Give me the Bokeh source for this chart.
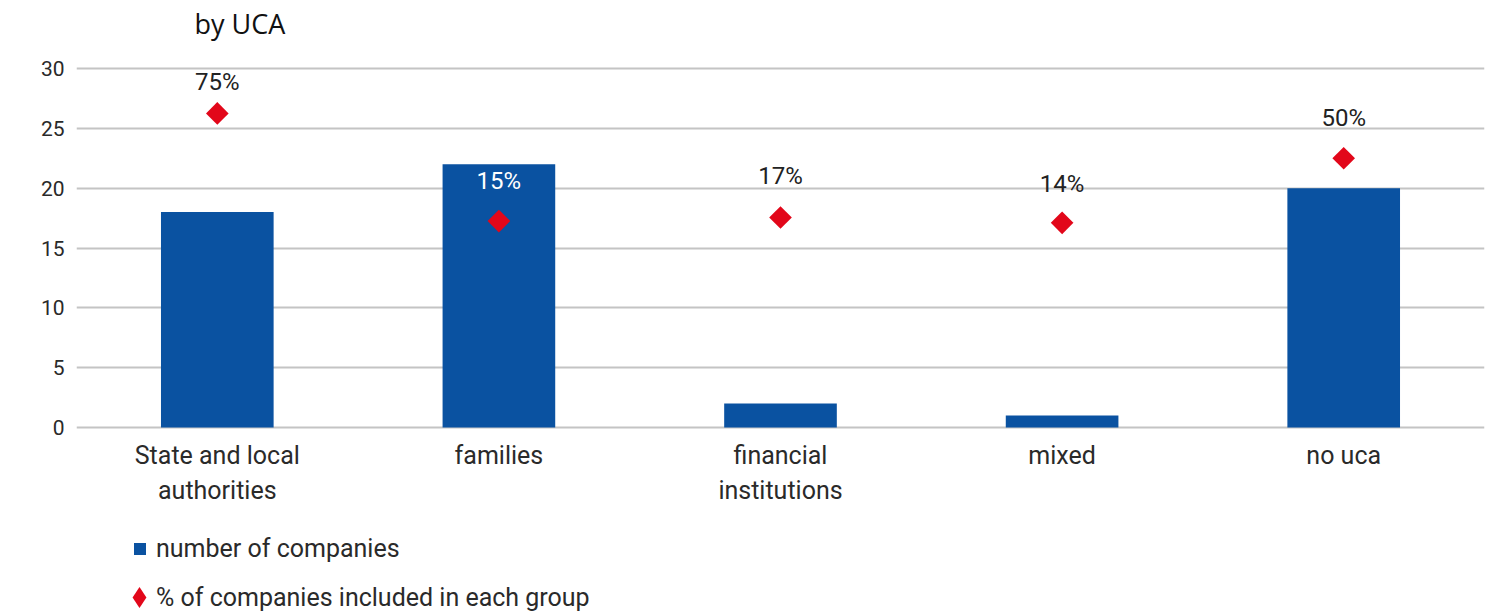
from bokeh.plotting import figure
from bokeh.models import (ColumnDataSource, Range1d, LabelSet, Label, Legend, LegendItem,
                          FixedTicker)
from bokeh.core.properties import value
from bokeh.embed import file_html
from bokeh.resources import INLINE
import math

title_text = "by UCA"
categories = ["State and local authorities", "families", "financial institutions", "mixed", "no uca"]
category_labels = ["State and local\nauthorities", "families", "financial\ninstitutions", "mixed", "no uca"]
companies = [18, 22, 2, 1, 20]
pct_included = [75, 15, 17, 14, 50]
pct_labels = ["75%", "15%", "17%", "14%", "50%"]
y_ticks = [0, 5, 10, 15, 20, 25, 30]

label_colors = ["#222222", "#ffffff", "#222222", "#222222", "#222222"]
label_offsets = [31, 40, 41, 39, 40]

BLUE = "#0A52A1"
RED = "#E2071A"
GRID = "#c4c4c4"
FONT = "Roboto"
TXT = "#2a2a2a"

# layout (screen px)
W, H = 1490, 615
LEFT, RIGHT, TOP = 76, 6, 0
PX = 359 / 30.0            # px per unit of the count axis
Y30 = 68                   # screen y of value 30
frame_h = H - TOP
y_end = 30 + (Y30 - TOP) / PX
y_start = y_end - frame_h / PX

line1 = [s.split("\n")[0] for s in category_labels]
line2 = [s.split("\n")[1] if "\n" in s else "" for s in category_labels]

src = ColumnDataSource(dict(cat=categories, n=companies, pct=pct_included, lab=pct_labels,
                            col=label_colors, off=label_offsets,
                            l1=line1, l2=line2, zero=[0] * len(categories)))

p = figure(x_range=categories, y_range=Range1d(y_start, y_end), width=W, height=H,
           output_backend="svg", toolbar_location=None,
           min_border_left=LEFT, min_border_right=RIGHT, min_border_top=TOP, min_border_bottom=0)
# secondary (hidden) percentage scale: -100%..100% spans 0..30
p.extra_y_ranges = {"pct": Range1d((y_start - 15) / 0.15, (y_end - 15) / 0.15)}

p.add_layout(Label(x=118, y=H - 41, x_units="screen", y_units="screen", text=title_text,
                   text_font="Open Sans", text_font_size="27px", text_color="#111111",
                   text_align="left", text_baseline="bottom"))

bars = p.vbar(x="cat", top="n", width=0.4, source=src, color=BLUE, line_color=None)
pts = p.scatter(x="cat", y="pct", source=src, marker="square", angle=math.pi / 4, size=16,
                color=RED, line_color=None, y_range_name="pct")
# legend-only renderers (no visible data)
leg_src = ColumnDataSource(dict(cat=[categories[0]], pct=[float("nan")]))
leg_diamond = p.scatter(x="cat", y="pct", source=leg_src, marker="diamond", size=19,
                        color=RED, line_color=None, y_range_name="pct")
leg_blank = p.scatter(x="cat", y="pct", source=leg_src, marker="square", size=1,
                      fill_alpha=0, line_alpha=0, y_range_name="pct")

labels = LabelSet(x="cat", y="pct", text="lab", source=src, y_range_name="pct",
                  y_offset="off", text_align="center", text_baseline="middle",
                  text_font=value(FONT), text_font_size="24px", text_color="col")
p.add_layout(labels)

for field, off in (("l1", -13), ("l2", -48)):
    p.add_layout(LabelSet(x="cat", y="zero", text=field, source=src, y_offset=off,
                          text_align="center", text_baseline="top",
                          text_font=value(FONT), text_font_size="25px", text_color=TXT))

p.outline_line_color = None
p.xgrid.grid_line_color = None
p.ygrid.grid_line_color = GRID
p.ygrid.grid_line_width = 2
p.ygrid.ticker = FixedTicker(ticks=y_ticks)

p.yaxis.ticker = FixedTicker(ticks=y_ticks)
p.yaxis.axis_line_color = None
p.yaxis.major_tick_line_color = None
p.yaxis.minor_tick_line_color = None
p.yaxis.major_tick_out = 0
p.yaxis.major_tick_in = 0
p.yaxis.major_label_text_font = FONT
p.yaxis.major_label_text_font_size = "21px"
p.yaxis.major_label_text_color = TXT
p.yaxis.major_label_standoff = 12

p.xaxis.visible = False

common = dict(orientation="vertical", label_text_font=FONT, label_text_font_size="25px",
              label_text_color=TXT, border_line_color=None, background_fill_alpha=0,
              margin=0, padding=0, label_text_baseline="middle")
leg1 = Legend(items=[LegendItem(label="number of companies", renderers=[bars])],
              location=(56, 52.5), glyph_width=15, glyph_height=15, label_standoff=9,
              label_height=15, **common)
leg2 = Legend(items=[LegendItem(label=" ", renderers=[leg_diamond])],
              location=(36.5, -7.5), glyph_width=52, glyph_height=52, label_standoff=0,
              label_height=52, label_width=1, **common)
leg3 = Legend(items=[LegendItem(label="% of companies included in each group", renderers=[leg_blank])],
              location=(79, 3), glyph_width=1, glyph_height=20, label_standoff=0,
              label_height=20, **common)
for lg in (leg1, leg2, leg3):
    p.add_layout(lg)

open("out.html", "w").write(file_html(p, INLINE))
